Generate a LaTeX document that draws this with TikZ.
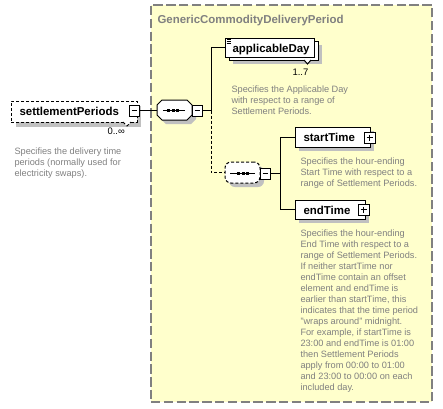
\documentclass[tikz,border=0pt]{standalone}
\usepackage{fontspec}
\setmainfont{Liberation Sans}
\usetikzlibrary{fit}
\definecolor{ybg}{HTML}{FFFFCC}
\definecolor{ybd}{HTML}{808080}
\definecolor{shd}{HTML}{C0C0C0}
\definecolor{descgray}{HTML}{808080}
\begin{document}
\begin{tikzpicture}[x=0.75pt,y=-0.75pt,
  line width=0.75pt,
  frame/.style={inner sep=0pt, draw=black, fill=white},
  ctrl/.style={inner sep=0pt, draw=black, fill=white},
  lbl/.style={inner sep=0pt, anchor=base west, font=\fontsize{8.6}{10}\selectfont\bfseries},
  desc/.style={inner sep=0pt, anchor=north west, align=left, text=descgray, font=\fontsize{6.9}{8.25}\selectfont},
  card/.style={inner sep=0pt, anchor=base west, font=\fontsize{7.1}{8.5}\selectfont},
  smalldash/.style={dash pattern=on 2.25pt off 1.5pt},
]
\useasboundingbox (0,0) rectangle (443,408);

% group box
\node[fit={(151,5) (432,402)}, inner sep=0pt, draw=ybd, fill=ybg, line width=1.1pt, dash pattern=on 7pt off 2.6pt] (grp) {};
\node[lbl, text=ybd] (grpT) at (157,23) {GenericCommodityDeliveryPeriod};

% settlementPeriods
\fill[shd] (16,106) rectangle (141,127);
\node[fit={(11,101) (137,122)}, frame, smalldash] (sp) {};
\node[lbl] (spT) at (19,115.5) {settlementPeriods};
\draw[smalldash, fill=white] (123,122) -- (127,126) -- (131,122);
\fill (130,106) rectangle (140,117);
\node[fit={(129,105) (139,116)}, ctrl] (spM) {};
\draw (131.5,110.5) -- (136.5,110.5);
\node[card] (spC) at (107,134) {0..∞};
\node[desc] (spD) at (14,145.5) {\rule{0pt}{6pt}Specifies the delivery time\\periods (normally used for\\electricity swaps).};

% sequence 1
\fill[shd] (166,104) -- (191,104) -- (196,109) -- (196,119) -- (191,124) -- (166,124) -- (161,119) -- (161,109) -- cycle;
\node[fit={(157,100) (192,120)}, inner sep=0pt] (seq1) {};
\draw[fill=white] (162,100) -- (187,100) -- (192,105) -- (192,115) -- (187,120) -- (162,120) -- (157,115) -- (157,105) -- cycle;
\draw (163,110) -- (185,110);
\fill (167,108.5) rectangle (170,111.5);
\fill (171.5,108.5) rectangle (174.5,111.5);
\fill (176,108.5) rectangle (179,111.5);
\fill (193,106) rectangle (203,117);
\node[fit={(192,105) (202,116)}, ctrl] (s1M) {};
\draw (194.5,110.5) -- (199.5,110.5);

\draw (spM.east) -- (seq1.west |- spM.east);

% applicableDay
\fill[shd] (233,45) rectangle (322,64);
\draw[fill=white] (229,41) rectangle (318,60);
\node[fit={(225,38) (314,57)}, frame] (ad) {};
\draw (226.5,39.5) -- (230.5,39.5) (226.5,41.5) -- (230.5,41.5) (226.5,43.5) -- (230.5,43.5);
\draw[fill=white] (304,60) -- (307.5,64) -- (311,60);
\node[lbl] (adT) at (232,52) {applicableDay};
\node[card] (adC) at (292,75) {1..7};
\node[desc] (adD) at (231,84) {\rule{0pt}{6pt}Specifies the Applicable Day\\with respect to a range of\\Settlement Periods.};

% sequence 2
\fill[shd, rounded corners=4.5pt] (229,166) rectangle (264,187);
\node[fit={(225,162) (260,183)}, frame, smalldash, rounded corners=4.5pt] (seq2) {};
\draw (230,173) -- (255,173);
\fill (237,171.5) rectangle (240,174.5);
\fill (241.5,171.5) rectangle (244.5,174.5);
\fill (246,171.5) rectangle (249,174.5);
\fill (261,169) rectangle (271,180);
\node[fit={(260,168) (270,179)}, ctrl] (s2M) {};
\draw (262.5,173.5) -- (267.5,173.5);

% junction 1
\coordinate (j1) at (211,110.5);
\draw (s1M.east) -- (j1);
\draw (j1) |- (ad.west);
\draw[smalldash] (j1) |- (seq2.west);

% startTime
\fill[shd] (299,131) rectangle (374,151);
\node[fit={(295,127) (370,147)}, frame] (st) {};
\node[lbl] (stT) at (303,141) {startTime};
\fill (365,133) rectangle (376,144);
\node[fit={(364,132) (375,143)}, ctrl] (stP) {};
\draw (366.5,137.5) -- (372.5,137.5) (369.5,134.5) -- (369.5,140.5);
\node[desc] (stD) at (300,155.5) {\rule{0pt}{6pt}Specifies the hour-ending\\Start Time with respect to a\\range of Settlement Periods.};

% endTime
\fill[shd] (299,204) rectangle (369,223);
\node[fit={(295,200) (365,219)}, frame] (et) {};
\node[lbl] (etT) at (303,214) {endTime};
\fill (359,205) rectangle (370,216);
\node[fit={(358,204) (369,215)}, ctrl] (etP) {};
\draw (360.5,209.5) -- (366.5,209.5) (363.5,206.5) -- (363.5,212.5);
\node[desc] (etD) at (300,227.5) {\rule{0pt}{6pt}Specifies the hour-ending\\End Time with respect to a\\range of Settlement Periods.\\If neither startTime nor\\endTime contain an offset\\element and endTime is\\earlier than startTime, this\\indicates that the time period\\"wraps around" midnight.\\For example, if startTime is\\23:00 and endTime is 01:00\\then Settlement Periods\\apply from 00:00 to 01:00\\and 23:00 to 00:00 on each\\included day.};

% junction 2
\coordinate (j2) at (280,173.5);
\draw (s2M.east) -- (j2);
\draw (j2) |- (st.west);
\draw (j2) |- (et.west);
\end{tikzpicture}
\end{document}
